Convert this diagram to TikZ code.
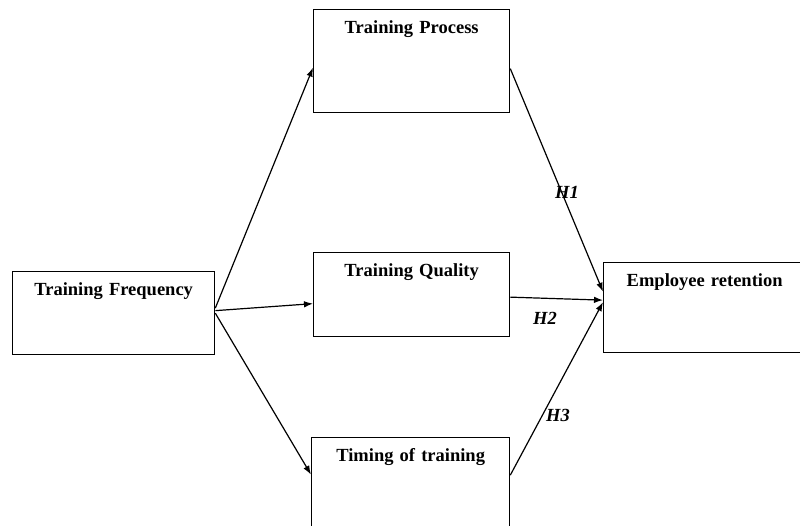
\documentclass[tikz,border=0pt]{standalone}
\usepackage{fontspec}
\setmainfont{Liberation Serif}
\usetikzlibrary{arrows.meta}
\begin{document}
\begin{tikzpicture}[x=1pt,y=-1pt,
  box/.style={draw, line width=1.3pt, inner sep=0pt, anchor=north west, align=center,
    font=\bfseries\fontsize{18.5}{22}\selectfont, text height=24pt},
  arr/.style={line width=1.2pt, -{Latex[length=9pt,width=6.5pt]}},
  hyp/.style={font=\bfseries\itshape\fontsize{18.5}{22}\selectfont, inner sep=0pt}]
\useasboundingbox (0,0) rectangle (800,526);
\clip (0,0) rectangle (800,526);
\node[box, text width=202pt, text depth=59pt] (freq) at (12,271) {Training Frequency};
\node[box, text width=196pt, text depth=79pt] (proc) at (313,9) {Training Process};
\node[box, text width=196pt, text depth=60pt] (qual) at (313,252) {Training Quality};
\node[box, text width=198pt, text depth=76pt] (timing) at (311,437) {Timing of training};
\node[box, text width=202pt, text depth=66pt] (emp) at (603,262) {Employee retention};
\draw[arr] ([yshift=5pt]freq.east) -- ([yshift=-6.5pt]proc.west);
\draw[arr] ([yshift=2.5pt]freq.east) -- ([yshift=-9pt]qual.west);
\draw[arr] (freq.east) -- ([yshift=13pt]timing.west);
\draw[arr] ([yshift=-7.5pt]proc.east) -- ([yshift=16pt]emp.west);
\draw[arr] ([yshift=-2.5pt]qual.east) -- ([yshift=7.5pt]emp.west);
\draw[arr] ([yshift=12.5pt]timing.east) -- ([yshift=5.5pt]emp.west);
\node[hyp] (h1) at (567,192) {H1};
\node[hyp] (h2) at (545,318) {H2};
\node[hyp] (h3) at (558,415) {H3};
\end{tikzpicture}
\end{document}
